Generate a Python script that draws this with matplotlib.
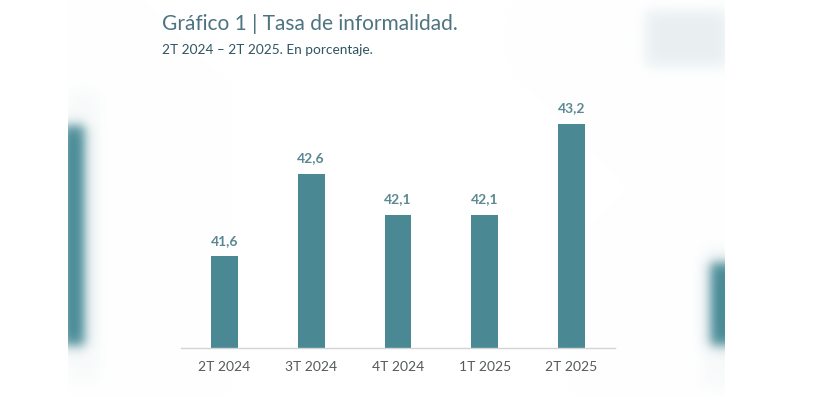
import numpy as np
import matplotlib
matplotlib.use("Agg")
import matplotlib.pyplot as plt

categories = ["2T 2024", "3T 2024", "4T 2024", "1T 2025", "2T 2025"]
values = [41.6, 42.6, 42.1, 42.1, 43.2]
title = "Gráfico 1 | Tasa de informalidad."
subtitle = "2T 2024 – 2T 2025. En porcentaje."

BAR = "#4a8994"
LABEL = "#5b8893"
TITLE_C = "#4d7480"
SUB_C = "#2e5562"
TICK_C = "#555a5c"
FONT = ["Lato", "DejaVu Sans"]

W, H = 819, 396
fig = plt.figure(figsize=(W / 100, H / 100), dpi=100)
fig.patch.set_facecolor("white")

# ---- soft blurred decorations at the sides (background screenshot edges)
yy, xx = np.mgrid[0:H, 0:W].astype(float)
img = np.ones((H, W, 3))


def sig(t):
    return 1.0 / (1.0 + np.exp(-t))


def soft(x0, x1, y0, y1, b, color, alpha):
    global img
    a = (sig((xx - x0) / b) - sig((xx - x1) / b)) * (sig((yy - y0) / b) - sig((yy - y1) / b))
    a = np.clip(a, 0, 1) * alpha
    c = np.array(matplotlib.colors.to_rgb(color))
    img = img * (1 - a[..., None]) + c * a[..., None]


soft(66, 100, 88, 382, 4, "#e6ecee", 0.25)
soft(62, 84, 125, 345, 3.5, "#3f8591", 1.0)
soft(645, 728, 10, 66, 4, "#d3e0e4", 0.5)
soft(700, 735, 245, 388, 4, "#e6ecee", 0.25)
soft(710, 735, 262, 345, 3.5, "#3f8591", 1.0)
mask = (xx < 68) | (xx > 724)
img[mask] = 1.0

bg = fig.add_axes([0, 0, 1, 1], zorder=0)
bg.imshow(img, extent=(0, W, H, 0), aspect="auto", interpolation="bilinear")
bg.set_xlim(0, W)
bg.set_ylim(H, 0)
bg.axis("off")

# ---- main chart
ax = fig.add_axes([181 / W, (H - 348.3) / H, 434 / W, 248.3 / H], zorder=2)
ax.patch.set_alpha(0)
x = np.arange(len(categories))
ax.bar(x, values, width=0.31, color=BAR)
ax.set_xlim(-0.5, 4.5)
ax.set_ylim(40.49, 43.49)
for s in ["top", "right", "left"]:
    ax.spines[s].set_visible(False)
ax.spines["bottom"].set_color("#d4d4d4")
ax.spines["bottom"].set_linewidth(1.0)
ax.set_yticks([])
ax.set_xticks(x)
ax.set_xticklabels(categories, fontsize=10, color=TICK_C, family=FONT)
ax.tick_params(axis="x", length=0, pad=9.5)

for xi, v in zip(x, values):
    ax.annotate(f"{v:.1f}".replace(".", ","), xy=(xi, v), xytext=(0, 7),
                textcoords="offset points", ha="center", va="bottom",
                fontsize=10, fontweight="bold", color=LABEL, family=FONT)

fig.text(161.7 / W, 1 - 29.5 / H, title, fontsize=15, color=TITLE_C,
         va="baseline", ha="left", zorder=3, family=FONT)
fig.text(161.7 / W, 1 - 53.5 / H, subtitle, fontsize=9.8, color=SUB_C,
         va="baseline", ha="left", zorder=3, family=FONT)

fig.savefig("out.png", dpi=100, facecolor="white")
